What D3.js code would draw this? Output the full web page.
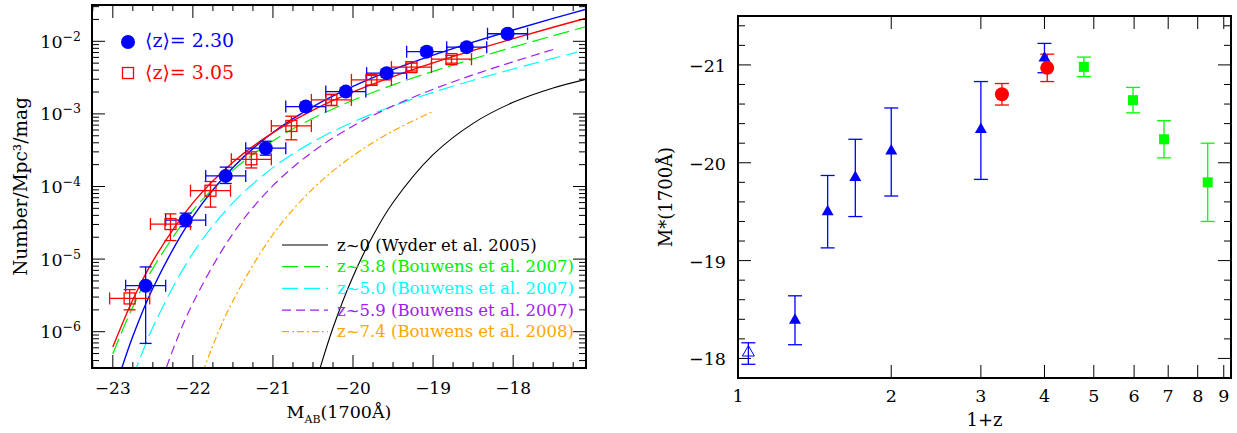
<!DOCTYPE html>
<html>

<head>
    <meta charset=utf-8 />
    <script src="https://d3js.org/d3.v7.min.js"></script>
    <title>UV luminosity function and M* evolution</title>
    <style>
        html,
        body {
            margin: 0;
            padding: 0;
            background: #fff;
        }

        svg {
            display: block;
            font-family: "DejaVu Serif", "Liberation Serif", serif;
        }
    </style>
</head>

<body>
    <div id="chart"></div>
    <script>
        // ---- left panel: measured luminosity functions ----
        var magZ230 = [-22.59, -22.09, -21.59, -21.09, -20.59, -20.09, -19.58, -19.08, -18.58, -18.07];
        var phiZ230 = [4.3e-6, 3.45e-5, 1.40e-4, 3.37e-4, 1.26e-3, 2.03e-3, 3.64e-3, 7.2e-3, 8.3e-3, 1.27e-2];
        var phiZ230Hi = [7.8e-6, 4.3e-5, 1.85e-4, 4.2e-4, 1.45e-3, 2.3e-3, 4.1e-3, 8.2e-3, 9.4e-3, 1.42e-2];
        var phiZ230Lo = [6.9e-7, 2.8e-5, 1.1e-4, 2.7e-4, 1.1e-3, 1.8e-3, 3.2e-3, 6.4e-3, 7.3e-3, 1.13e-2];

        var magZ305 = [-22.79, -22.28, -21.78, -21.27, -20.77, -20.27, -19.77, -19.27, -18.77];
        var phiZ305 = [2.87e-6, 3.04e-5, 8.75e-5, 2.37e-4, 6.82e-4, 1.56e-3, 2.94e-3, 4.41e-3, 5.68e-3];
        var phiZ305Hi = [3.8e-6, 4.2e-5, 1.17e-4, 3.0e-4, 9.3e-4, 1.85e-3, 3.4e-3, 5.0e-3, 6.4e-3];
        var phiZ305Lo = [2.0e-6, 1.8e-5, 5.2e-5, 1.8e-4, 4.4e-4, 1.3e-3, 2.5e-3, 3.9e-3, 5.0e-3];
        var magErr = 0.25;

        var fitMag = [-23, -22.75, -22.5, -22, -21.5, -21, -20.5, -20, -19.5, -19, -18.5, -18, -17.5, -17];
        var fitZ230 = [-6.880, -6.064, -5.401, -4.414, -3.737, -3.256, -2.899, -2.620, -2.390, -2.191, -2.011, -1.844, -1.685, -1.530];
        var fitZ305 = [-6.212, -5.560, -5.027, -4.225, -3.665, -3.258, -2.947, -2.697, -2.486, -2.298, -2.126, -1.964, -1.807, -1.655];
        var lfZ38 = [-6.303, -5.656, -5.127, -4.331, -3.775, -3.370, -3.061, -2.812, -2.601, -2.414, -2.242, -2.080, -1.923, -1.771];

        var magZ50 = [-22.75, -22.5, -22, -21.5, -21, -20.5, -20, -19.5, -19, -18.5, -18, -17.5, -17.2];
        var lfZ50 = [-6.629, -5.940, -4.919, -4.226, -3.740, -3.385, -3.112, -2.891, -2.703, -2.536, -2.381, -2.235, -2.150];

        var magZ59 = [-22.5, -22.25, -22, -21.5, -21, -20.5, -20, -19.5, -19, -18.5, -18, -17.5];
        var lfZ59 = [-7.040, -6.250, -5.607, -4.649, -3.989, -3.518, -3.167, -2.890, -2.661, -2.462, -2.282, -2.113];

        var magZ74 = [-22, -21.75, -21.5, -21, -20.5, -20, -19.5, -19];
        var lfZ74 = [-6.940, -6.189, -5.576, -4.661, -4.029, -3.576, -3.235, -2.966];

        var magZ0 = [-20.5, -20.25, -20, -19.75, -19.5, -19, -18.5, -18, -17.5, -17];
        var lfZ0 = [-6.828, -5.946, -5.240, -4.675, -4.221, -3.562, -3.130, -2.841, -2.643, -2.501];

        var legendLabels = ['z~0 (Wyder et al. 2005)', 'z~3.8 (Bouwens et al. 2007)', 'z~5.0 (Bouwens et al. 2007)',
            'z~5.9 (Bouwens et al. 2007)', 'z~7.4 (Bouwens et al. 2008)'];

        // ---- right panel: M* against 1+z ----
        var opz0 = [1.048];
        var mst0 = [-18.06], mst0Hi = [-18.16], mst0Lo = [-17.94];
        var opzTri = [1.294, 1.50, 1.70, 2.0, 3.0, 4.0];
        var mstTri = [-18.39, -19.50, -19.85, -20.12, -20.34, -21.07];
        var mstTriHi = [-18.64, -19.87, -20.24, -20.56, -20.83, -21.22];
        var mstTriLo = [-18.14, -19.13, -19.45, -19.66, -19.83, -20.92];
        var opzCirc = [3.30, 4.05];
        var mstCirc = [-20.70, -20.97];
        var mstCircHi = [-20.81, -21.11];
        var mstCircLo = [-20.59, -20.83];
        var opzSq = [4.78, 5.97, 6.87, 8.37];
        var mstSq = [-20.98, -20.64, -20.24, -19.80];
        var mstSqHi = [-21.08, -20.77, -20.43, -20.20];
        var mstSqLo = [-20.88, -20.51, -20.05, -19.40];

        var BLUE = '#0000ff', RED = '#ff0000', GREEN = '#00ee00', CYAN = '#00ffff', PURPLE = '#a020f0', ORANGE = '#ffa500';

        var svg = d3.select('#chart').append('svg')
            .attr('width', 1237)
            .attr('height', 433);
        svg.append('rect').attr('width', 1237).attr('height', 433).attr('fill', '#fff');

        function drawTicks(g, vals, side, scale, pos, len) {
            var horiz = side === 'bottom' || side === 'top';
            var dir = (side === 'left' || side === 'top') ? 1 : -1;
            g.selectAll(null).data(vals).enter().append('line')
                .attr('stroke', '#000')
                .attr('stroke-width', 1)
                .attr('x1', d => horiz ? scale(d) : pos)
                .attr('x2', d => horiz ? scale(d) : pos + dir * len)
                .attr('y1', d => horiz ? pos : scale(d))
                .attr('y2', d => horiz ? pos + dir * len : scale(d));
        }

        function errBars(g, pts, color, cap) {
            // pts: [x, y, x0, x1, y0, y1] already in pixels
            pts.forEach(function (p) {
                var e = g.append('g').attr('stroke', color).attr('stroke-width', 1.3).attr('fill', 'none');
                if (p[2] !== null) {
                    e.append('line').attr('x1', p[2]).attr('x2', p[3]).attr('y1', p[1]).attr('y2', p[1]);
                    e.append('line').attr('x1', p[2]).attr('x2', p[2]).attr('y1', p[1] - cap).attr('y2', p[1] + cap);
                    e.append('line').attr('x1', p[3]).attr('x2', p[3]).attr('y1', p[1] - cap).attr('y2', p[1] + cap);
                }
                e.append('line').attr('x1', p[0]).attr('x2', p[0]).attr('y1', p[4]).attr('y2', p[5]);
                e.append('line').attr('x1', p[0] - cap).attr('x2', p[0] + cap).attr('y1', p[4]).attr('y2', p[4]);
                e.append('line').attr('x1', p[0] - cap).attr('x2', p[0] + cap).attr('y1', p[5]).attr('y2', p[5]);
            });
        }

        // ================= LEFT PANEL =================
        var L = { x0: 92, x1: 586, y0: 5, y1: 368 };
        var xL = d3.scaleLinear().domain([-23.26, -17.09]).range([L.x0, L.x1]);
        var yL = d3.scaleLog().domain([Math.pow(10, -6.5), Math.pow(10, -1.5)]).range([L.y1, L.y0]);
        var gL = svg.append('g');

        svg.append('clipPath').attr('id', 'clipL').append('rect')
            .attr('x', L.x0).attr('y', L.y0).attr('width', L.x1 - L.x0).attr('height', L.y1 - L.y0);

        var line = d3.line()
            .x(d => xL(d[0]))
            .y(d => yL(Math.pow(10, d[1])))
            .curve(d3.curveCatmullRom);

        var curves = [
            { m: magZ0, v: lfZ0, color: '#000', dash: null, w: 1.1 },
            { m: fitMag, v: lfZ38, color: GREEN, dash: '16,6', w: 1.2 },
            { m: magZ50, v: lfZ50, color: CYAN, dash: '16,6', w: 1.2 },
            { m: magZ59, v: lfZ59, color: PURPLE, dash: '9,5', w: 1.2 },
            { m: magZ74, v: lfZ74, color: ORANGE, dash: '7,3,2,3', w: 1.2 },
            { m: fitMag, v: fitZ230, color: BLUE, dash: null, w: 1.4 },
            { m: fitMag, v: fitZ305, color: RED, dash: null, w: 1.4 }
        ];
        var gCurves = gL.append('g').attr('clip-path', 'url(#clipL)');
        curves.forEach(function (c) {
            gCurves.append('path')
                .attr('d', line(d3.zip(c.m, c.v)))
                .attr('fill', 'none')
                .attr('stroke', c.color)
                .attr('stroke-width', c.w)
                .attr('stroke-dasharray', c.dash);
        });

        // data points with error bars
        var gPts = gL.append('g').attr('clip-path', 'url(#clipL)');
        errBars(gPts, magZ230.map((m, i) => [xL(m), yL(phiZ230[i]), xL(m - magErr), xL(m + magErr), yL(phiZ230Hi[i]), yL(phiZ230Lo[i])]), BLUE, 6);
        errBars(gPts, magZ305.map((m, i) => [xL(m), yL(phiZ305[i]), xL(m - magErr), xL(m + magErr), yL(phiZ305Hi[i]), yL(phiZ305Lo[i])]), RED, 6);

        gPts.selectAll('.c230').data(d3.zip(magZ230, phiZ230)).enter().append('circle')
            .attr('class', 'c230')
            .attr('cx', d => xL(d[0]))
            .attr('cy', d => yL(d[1]))
            .attr('r', 7)
            .attr('fill', BLUE);

        gPts.selectAll('.s305').data(d3.zip(magZ305, phiZ305)).enter().append('rect')
            .attr('class', 's305')
            .attr('x', d => xL(d[0]) - 5.5)
            .attr('y', d => yL(d[1]) - 5.5)
            .attr('width', 11)
            .attr('height', 11)
            .attr('fill', 'none')
            .attr('stroke', RED)
            .attr('stroke-width', 1.3);

        // ticks
        var xMajL = d3.range(-23, -17.5, 1);
        var xMinL = d3.range(-23.25, -17, 0.25).filter(v => v % 1 !== 0);
        drawTicks(gL, xMajL, 'bottom', xL, L.y1, 13);
        drawTicks(gL, xMinL, 'bottom', xL, L.y1, 6);
        drawTicks(gL, xMajL, 'top', xL, L.y0, 13);
        drawTicks(gL, xMinL, 'top', xL, L.y0, 6);

        var yMajL = [-6, -5, -4, -3, -2].map(k => Math.pow(10, k));
        var yMinL = [];
        [-7, -6, -5, -4, -3, -2].forEach(function (k) {
            for (var m = 2; m <= 9; m++) {
                var v = m * Math.pow(10, k);
                if (v > Math.pow(10, -6.5) && v < Math.pow(10, -1.5)) yMinL.push(v);
            }
        });
        drawTicks(gL, yMajL, 'left', yL, L.x0, 13);
        drawTicks(gL, yMinL, 'left', yL, L.x0, 7);
        drawTicks(gL, yMajL, 'right', yL, L.x1, 13);
        drawTicks(gL, yMinL, 'right', yL, L.x1, 7);

        gL.append('rect')
            .attr('x', L.x0).attr('y', L.y0)
            .attr('width', L.x1 - L.x0).attr('height', L.y1 - L.y0)
            .attr('fill', 'none').attr('stroke', '#000').attr('stroke-width', 2);

        // tick labels
        gL.selectAll('.xlab').data(xMajL).enter().append('text')
            .attr('x', d => xL(d))
            .attr('y', 394)
            .attr('text-anchor', 'middle')
            .attr('font-size', 17)
            .text(d3.format('d'));

        var ylab = gL.selectAll('.ylab').data([-6, -5, -4, -3, -2]).enter().append('text')
            .attr('x', 81)
            .attr('y', d => yL(Math.pow(10, d)) + 6.5)
            .attr('text-anchor', 'end')
            .attr('font-size', 17.5);
        ylab.append('tspan').text('10');
        ylab.append('tspan').attr('dy', -7).attr('font-size', 12.5).text(d => '\u2212' + (-d));

        // axis titles
        gL.append('text')
            .attr('transform', 'translate(27,' + (L.y0 + L.y1) / 2 + ') rotate(-90)')
            .attr('text-anchor', 'middle')
            .attr('font-size', 18.5)
            .text('Number/Mpc\u00b3/mag');

        var xt = gL.append('text')
            .attr('x', (L.x0 + L.x1) / 2)
            .attr('y', 418)
            .attr('text-anchor', 'middle')
            .attr('font-size', 17.5);
        xt.append('tspan').text('M');
        xt.append('tspan').attr('dy', 5).attr('font-size', 11).text('AB');
        xt.append('tspan').attr('dy', -5).text('(1700\u00c5)');

        // top-left legend
        gL.append('circle').attr('cx', 128).attr('cy', 42).attr('r', 7).attr('fill', BLUE);
        gL.append('text').attr('x', 145).attr('y', 47).attr('font-size', 19).attr('fill', BLUE)
            .text('\u27e8z\u27e9= 2.30');
        gL.append('rect').attr('x', 122.5).attr('y', 67.5).attr('width', 11).attr('height', 11)
            .attr('fill', 'none').attr('stroke', RED).attr('stroke-width', 1.3);
        gL.append('text').attr('x', 145).attr('y', 78.5).attr('font-size', 19).attr('fill', RED)
            .text('\u27e8z\u27e9= 3.05');

        // bottom legend
        var legY = d3.scalePoint().domain(legendLabels).range([245, 331.7]);
        curves.slice(0, 5).forEach(function (c, i) {
            var yy = legY(legendLabels[i]);
            gL.append('line')
                .attr('x1', 282).attr('x2', 328).attr('y1', yy).attr('y2', yy)
                .attr('stroke', c.color).attr('stroke-width', c.w)
                .attr('stroke-dasharray', c.dash);
            gL.append('text')
                .attr('x', 337).attr('y', yy + 5.5)
                .attr('font-size', 16.5)
                .attr('fill', c.color)
                .text(legendLabels[i]);
        });

        // ================= RIGHT PANEL =================
        var R = { x0: 738, x1: 1231, y0: 16, y1: 378 };
        var xR = d3.scaleLog().domain([1, 9.3]).range([R.x0, R.x1]);
        var yR = d3.scaleLinear().domain([-17.8, -21.5]).range([R.y1, R.y0]);
        var gR = svg.append('g');

        var xTickR = [2, 3, 4, 5, 6, 7, 8, 9];
        var yMajR = [-21, -20, -19, -18];
        var yMinR = d3.range(-21.4, -17.85, 0.2).map(v => Math.round(v * 10) / 10).filter(v => Math.abs(v % 1) > 0.01);
        drawTicks(gR, xTickR, 'bottom', xR, R.y1, 13);
        drawTicks(gR, xTickR, 'top', xR, R.y0, 13);
        drawTicks(gR, yMajR, 'left', yR, R.x0, 13);
        drawTicks(gR, yMinR, 'left', yR, R.x0, 7);
        drawTicks(gR, yMajR, 'right', yR, R.x1, 13);
        drawTicks(gR, yMinR, 'right', yR, R.x1, 7);

        gR.append('rect')
            .attr('x', R.x0).attr('y', R.y0)
            .attr('width', R.x1 - R.x0).attr('height', R.y1 - R.y0)
            .attr('fill', 'none').attr('stroke', '#000').attr('stroke-width', 2);

        gR.selectAll('.xlab').data([1, 2, 3, 4, 5, 6, 7, 8, 9]).enter().append('text')
            .attr('x', d => xR(d))
            .attr('y', 402)
            .attr('text-anchor', 'middle')
            .attr('font-size', 17.5)
            .text(d => d);
        gR.selectAll('.ylab').data(yMajR).enter().append('text')
            .attr('x', 726)
            .attr('y', d => yR(d) + 7)
            .attr('text-anchor', 'end')
            .attr('font-size', 17.5)
            .text(d3.format('d'));

        gR.append('text')
            .attr('x', (R.x0 + R.x1) / 2).attr('y', 426)
            .attr('text-anchor', 'middle').attr('font-size', 18)
            .text('1+z');
        gR.append('text')
            .attr('transform', 'translate(672,' + (R.y0 + R.y1) / 2 + ') rotate(-90)')
            .attr('text-anchor', 'middle').attr('font-size', 18)
            .text('M*(1700\u00c5)');

        errBars(gR, opz0.map((v, i) => [xR(v), yR(mst0[i]), null, null, yR(mst0Hi[i]), yR(mst0Lo[i])]), BLUE, 7);
        errBars(gR, opzTri.map((v, i) => [xR(v), yR(mstTri[i]), null, null, yR(mstTriHi[i]), yR(mstTriLo[i])]), BLUE, 7);
        errBars(gR, opzCirc.map((v, i) => [xR(v), yR(mstCirc[i]), null, null, yR(mstCircHi[i]), yR(mstCircLo[i])]), RED, 7);
        errBars(gR, opzSq.map((v, i) => [xR(v), yR(mstSq[i]), null, null, yR(mstSqHi[i]), yR(mstSqLo[i])]), '#00ff00', 7);

        var tri = d3.symbol().type(d3.symbolTriangle).size(62);
        gR.selectAll('.tri').data(d3.zip(opzTri, mstTri)).enter().append('path')
            .attr('class', 'tri')
            .attr('d', tri)
            .attr('transform', d => 'translate(' + xR(d[0]) + ',' + yR(d[1]) + ')')
            .attr('fill', BLUE);
        gR.selectAll('.otri').data(d3.zip(opz0, mst0)).enter().append('path')
            .attr('class', 'otri')
            .attr('d', tri)
            .attr('transform', d => 'translate(' + xR(d[0]) + ',' + yR(d[1]) + ')')
            .attr('fill', 'none')
            .attr('stroke', BLUE)
            .attr('stroke-width', 1);
        gR.selectAll('.circ').data(d3.zip(opzCirc, mstCirc)).enter().append('circle')
            .attr('class', 'circ')
            .attr('cx', d => xR(d[0]))
            .attr('cy', d => yR(d[1]))
            .attr('r', 7)
            .attr('fill', RED);
        gR.selectAll('.sq').data(d3.zip(opzSq, mstSq)).enter().append('rect')
            .attr('class', 'sq')
            .attr('x', d => xR(d[0]) - 5)
            .attr('y', d => yR(d[1]) - 5)
            .attr('width', 10)
            .attr('height', 10)
            .attr('fill', '#00ff00');
    </script>
</body>

</html>
